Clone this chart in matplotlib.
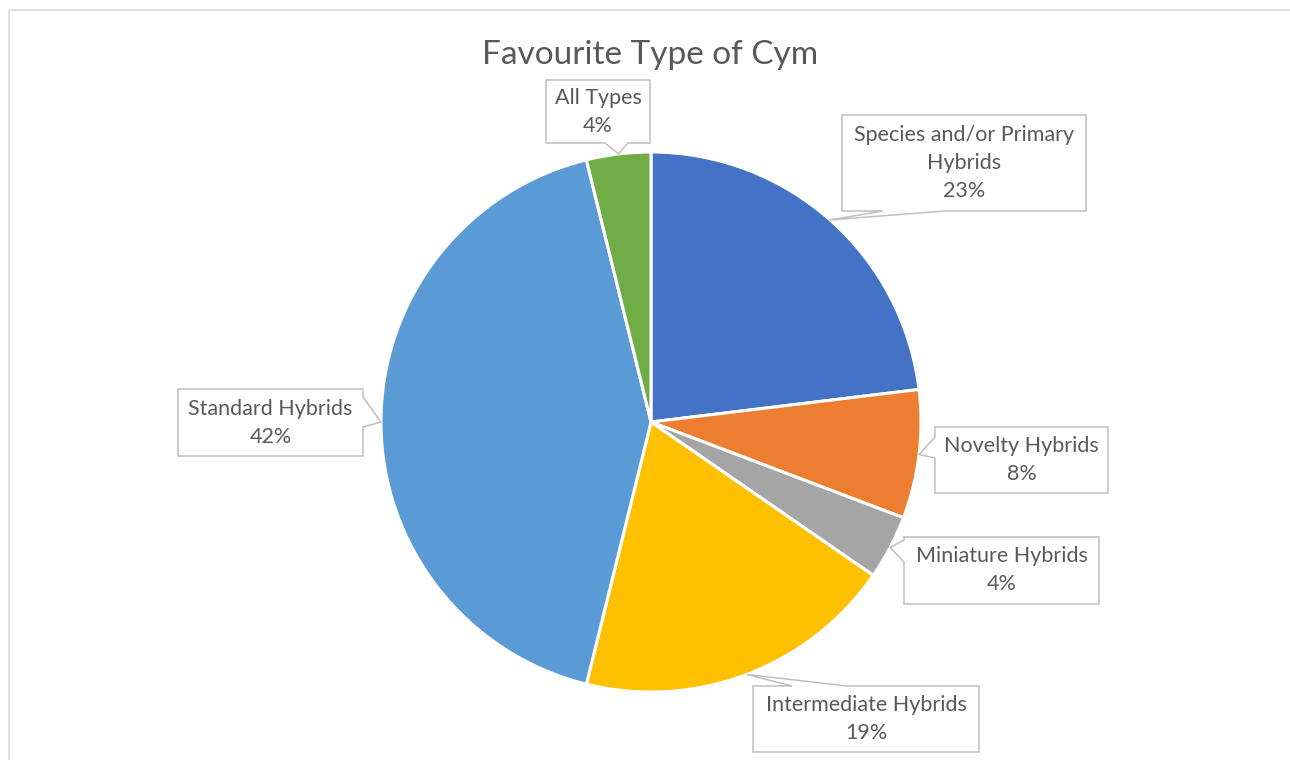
import numpy as np
import matplotlib
matplotlib.use("Agg")
import matplotlib.pyplot as plt
from matplotlib.patches import Polygon, Rectangle

plt.rcParams['font.family'] = ['Lato', 'DejaVu Sans']

# survey counts (26 answers)
labels = ['Species and/or Primary\nHybrids', 'Novelty Hybrids', 'Miniature Hybrids',
          'Intermediate Hybrids', 'Standard Hybrids', 'All Types']
counts = [6, 2, 1, 5, 11, 1]
colors = ['#4472C4', '#ED7D31', '#A5A5A5', '#FFC000', '#5B9BD5', '#70AD47']
title = 'Favourite Type of Cym'

# label boxes in pixels: x0, x1, ytop, ybot, side of pointer, pointer base (a, b)
boxes = [
    (842, 1086, 115, 211, 'bottom', (883, 945)),
    (935, 1108, 427, 493, 'left', (437, 458)),
    (904, 1099, 537, 604, 'left', (540, 562)),
    (753, 979, 686, 752, 'top', (792, 847)),
    (178, 363, 389, 456, 'right', (397, 427)),
    (546, 650, 80, 143, 'bottom', (605, 628)),
]

W, H = 1290, 760
cx, cy, R = 651, 422, 270
txt_col = '#595959'


def px(x, y):
    return (x - cx) / R, (cy - y) / R


fig = plt.figure(figsize=(W / 100, H / 100), dpi=100)
ax = fig.add_axes([0, 0, 1, 1])

wedges, _ = ax.pie(counts, colors=colors, startangle=90, counterclock=False, radius=1,
                   wedgeprops=dict(edgecolor='white', linewidth=2.2))

ax.set_xlim(px(0, 0)[0], px(W, 0)[0])
ax.set_ylim(px(0, H)[1], px(0, 0)[1])
ax.set_aspect('equal')
ax.axis('off')

# chart border
bx, by = px(9, 10)
ax.add_patch(Rectangle((bx, by), 10, -10, fill=False, ec='#D9D9D9', lw=1.2, zorder=0))

total = sum(counts)
for w, lab, c, b in zip(wedges, labels, counts, boxes):
    x0, x1, yt, yb, side, (a, bb) = b
    mid = np.deg2rad((w.theta1 + w.theta2) / 2)
    apex = (np.cos(mid) * 1.0, np.sin(mid) * 1.0)
    if side == 'bottom':
        pts = [(x0, yt), (x1, yt), (x1, yb), (bb, yb), None, (a, yb), (x0, yb)]
    elif side == 'top':
        pts = [(x0, yt), (a, yt), None, (bb, yt), (x1, yt), (x1, yb), (x0, yb)]
    elif side == 'left':
        pts = [(x0, yt), (x1, yt), (x1, yb), (x0, yb), (x0, bb), None, (x0, a)]
    else:
        pts = [(x0, yt), (x1, yt), (x1, a), None, (x1, bb), (x1, yb), (x0, yb)]
    verts = [apex if p is None else px(*p) for p in pts]
    ax.add_patch(Polygon(verts, closed=True, fc='white', ec='#BFBFBF', lw=1.1, zorder=3))
    pct = round(c / total * 100)
    tx, ty = px((x0 + x1) / 2, (yt + yb) / 2)
    ax.text(tx, ty, f'{lab}\n{pct}%', ha='center', va='center', fontsize=15.5,
            color=txt_col, linespacing=1.5, zorder=4)

tx, ty = px(650, 55)
ax.text(tx, ty, title, ha='center', va='center', fontsize=24, color=txt_col)

fig.savefig('out.png', dpi=100)
